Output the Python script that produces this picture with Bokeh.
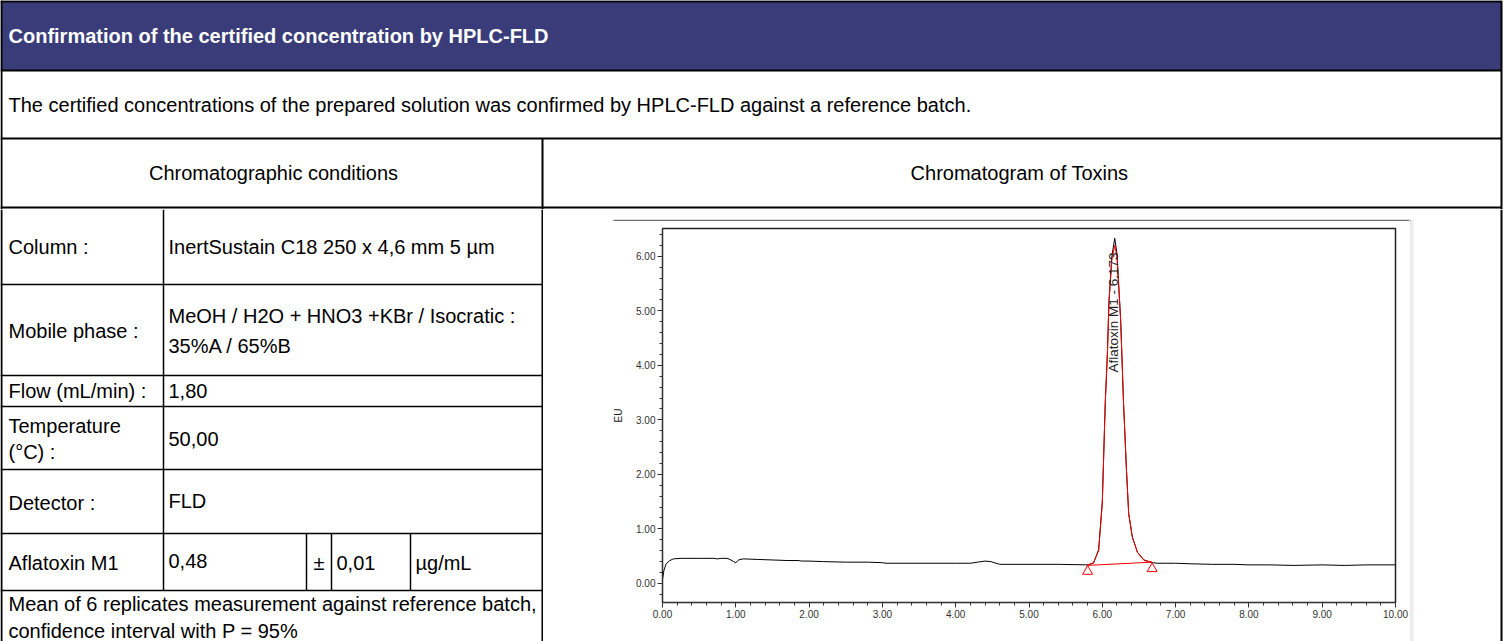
from math import pi
from bokeh.plotting import figure
from bokeh.layouts import column, row
from bokeh.models import Range1d, FixedTicker, PrintfTickFormatter, Label
from bokeh.core.properties import value
from bokeh.embed import file_html
from bokeh.resources import INLINE

# ---------------- data ----------------
trace_time = [0.00, 0.02, 0.05, 0.10, 0.15, 0.25, 0.50, 0.70, 0.75, 0.80, 0.88, 0.92,
              0.97, 1.00, 1.04, 1.10, 1.30, 1.50, 1.70, 1.85, 1.90, 2.00, 2.20, 2.50,
              2.80, 3.00, 3.05, 3.50, 4.00, 4.20, 4.30, 4.40, 4.48, 4.55, 4.60, 5.00,
              5.40, 5.80, 5.88, 5.95, 6.00, 6.02, 6.04, 6.07, 6.09, 6.13, 6.17, 6.20,
              6.25, 6.29, 6.33, 6.36, 6.41, 6.48, 6.57, 6.68, 6.75, 7.00, 7.20, 7.50,
              7.80, 8.00, 8.30, 8.60, 9.00, 9.30, 9.60, 10.00]
trace_eu = [0.08, 0.24, 0.36, 0.42, 0.45, 0.46, 0.46, 0.46, 0.45, 0.46, 0.46, 0.44,
            0.40, 0.38, 0.43, 0.45, 0.44, 0.43, 0.42, 0.42, 0.41, 0.41, 0.40, 0.39,
            0.39, 0.38, 0.37, 0.37, 0.37, 0.37, 0.39, 0.41, 0.40, 0.37, 0.35, 0.35,
            0.35, 0.34, 0.37, 0.62, 1.50, 2.40, 3.30, 4.25, 5.15, 6.00, 6.33, 6.05,
            4.85, 3.30, 2.07, 1.28, 0.85, 0.57, 0.43, 0.38, 0.37, 0.37, 0.36, 0.35,
            0.35, 0.34, 0.34, 0.33, 0.34, 0.33, 0.34, 0.34]

peak_time = [5.79, 5.88, 5.95, 6.00, 6.02, 6.04, 6.07, 6.09, 6.13, 6.17, 6.20,
             6.25, 6.29, 6.33, 6.36, 6.41, 6.48, 6.57, 6.68]
peak_eu = [0.33, 0.38, 0.60, 1.46, 2.38, 3.30, 4.21, 5.13, 5.93, 6.20, 5.99,
           4.83, 3.30, 2.07, 1.28, 0.85, 0.57, 0.42, 0.39]

baseline_time = [5.79, 6.68]
baseline_eu = [0.33, 0.39]
marker_time = [5.80, 6.68]
marker_eu = [0.22, 0.27]

peak_name = "Aflatoxin M1"
peak_rt = 6.173
label_pos = [6.15, 4.97]

x_major = [0, 1, 2, 3, 4, 5, 6, 7, 8, 9, 10]
y_major = [0, 1, 2, 3, 4, 5, 6]
x_range = [0, 10]
y_range = [-0.35, 6.51]

title_text = "Confirmation of the certified concentration by HPLC-FLD"
intro_text = "The certified concentrations of the prepared solution was confirmed by HPLC-FLD against a reference batch."
left_head = "Chromatographic conditions"
right_head = "Chromatogram of Toxins"

row_labels = ["Column :", "Mobile phase :", "Flow (mL/min) :", "Temperature\n(°C) :", "Detector :", "Aflatoxin M1"]
row_values = ["InertSustain C18 250 x 4,6 mm 5 µm",
              "MeOH / H2O + HNO3 +KBr / Isocratic :\n35%A / 65%B",
              "1,80", "50,00", "FLD", "0,48"]
uncert_sign = "±"
uncert_value = "0,01"
unit_text = "µg/mL"
footnote = ["Mean of 6 replicates measurement against reference batch,",
            "confidence interval with P = 95%"]

# ---------------- styles ----------------
FONT = "Liberation Sans"
BODY = "20px"
HEAD_BLUE = "#393c78"


def pix_fig(x0, x1, y0, y1):
    p = figure(width=x1 - x0, height=y1 - y0,
               x_range=Range1d(x0, x1), y_range=Range1d(y1, y0),
               x_axis_type=None, y_axis_type=None,
               toolbar_location=None, output_backend="svg",
               min_border=0, outline_line_color=None)
    p.background_fill_color = "white"
    p.border_fill_color = "white"
    return p


def put(p, xs, ys, texts, align="left", size=BODY, style="normal", color="black"):
    p.text(x=xs, y=ys, text=texts, text_font=value(FONT), text_font_size=size,
           text_font_style=style, text_align=align, text_baseline="middle",
           text_color=color)


W, H = 1509, 641
RB = 1501  # right border of the table

# ---------------- top part (header rows) ----------------
top = pix_fig(0, W, 0, 209)
top.quad(left=[0], right=[RB], top=[0], bottom=[70], fill_color=HEAD_BLUE, line_color=None)
top.segment(x0=[0, 0, 0, 0], y0=[1, 70, 138, 207], x1=[RB, RB, RB, RB], y1=[1, 70, 138, 207],
            line_color="black", line_width=2)
top.segment(x0=[1, 542, RB], y0=[0, 138, 0], x1=[1, 542, RB], y1=[209, 209, 209],
            line_color="black", line_width=2)
put(top, [8], [35], [title_text], size="20px", style="bold", color="white")
put(top, [8], [104], [intro_text])
put(top, [273, 1019], [172, 172], [left_head, right_head], align="center")

# ---------------- left table ----------------
left = pix_fig(0, 543, 209, H)
hl = [284, 375, 406, 469, 533, 590]
left.segment(x0=[0] * len(hl), y0=hl, x1=[542] * len(hl), y1=hl,
             line_color="black", line_width=1.5)
left.segment(x0=[163, 306, 331, 410], y0=[209, 533, 533, 533],
             x1=[163, 306, 331, 410], y1=[590, 590, 590, 590],
             line_color="black", line_width=1.5)
left.segment(x0=[1, 542], y0=[209, 209], x1=[1, 542], y1=[H, H], line_color="black", line_width=2)

label_y = [246, 330, 390, 438, 502, 562]
lab_x, lab_y, lab_t = [], [], []
for yy, txt in zip(label_y, row_labels):
    parts = txt.split("\n")
    off = -(len(parts) - 1) * 13
    for i, s in enumerate(parts):
        lab_x.append(8)
        lab_y.append(yy + off + i * 26)
        lab_t.append(s)
put(left, lab_x, lab_y, lab_t)

val_y = [246, 330, 390, 438, 500, 560]
v_x, v_y, v_t = [], [], []
for yy, txt in zip(val_y, row_values):
    parts = txt.split("\n")
    off = -(len(parts) - 1) * 15
    for i, s in enumerate(parts):
        v_x.append(168)
        v_y.append(yy + off + i * 30)
        v_t.append(s)
put(left, v_x, v_y, v_t)
put(left, [318.5], [562], [uncert_sign], align="center")
put(left, [336, 415], [562, 562], [uncert_value, unit_text])
put(left, [8, 8], [603, 630], footnote)

# ---------------- right side ----------------
gap = pix_fig(543, 1409, 209, 221)
gap.segment(x0=[613], y0=[220], x1=[1409], y1=[220], line_color="#6e6e6e", line_width=1.5)

strip = pix_fig(1409, W, 209, H)
strip.quad(left=[1409], right=[1413], top=[219.5], bottom=[H], fill_color="#ececec", line_color=None)
strip.segment(x0=[1409], y0=[220], x1=[1410], y1=[220], line_color="#6e6e6e", line_width=1.5)
strip.segment(x0=[RB], y0=[209], x1=[RB], y1=[H], line_color="black", line_width=2)

c = figure(width=866, height=H - 221,
           x_range=Range1d(*x_range), y_range=Range1d(*y_range),
           toolbar_location=None, output_backend="svg",
           min_border_left=119, min_border_right=14, min_border_top=7, min_border_bottom=39)
c.background_fill_color = "white"
c.border_fill_color = "white"
c.grid.visible = False
c.outline_line_color = "#222222"
c.outline_line_width = 1.5

x_minor = [round(i * 0.2, 1) for i in range(0, 51)]
y_minor = [round(-0.2 + i * 0.2, 1) for i in range(0, 34)]
c.xaxis.ticker = FixedTicker(ticks=x_major, minor_ticks=x_minor)
c.yaxis.ticker = FixedTicker(ticks=y_major, minor_ticks=y_minor)
c.xaxis.formatter = PrintfTickFormatter(format="%.2f")
c.yaxis.formatter = PrintfTickFormatter(format="%.2f")
for ax in (c.xaxis, c.yaxis):
    ax.major_label_text_font = "Liberation Sans"
    ax.major_label_text_font_size = "10px"
    ax.major_label_text_color = "#333333"
    ax.axis_line_color = "#333333"
    ax.major_tick_line_color = "#333333"
    ax.minor_tick_line_color = "#333333"
    ax.major_tick_in = 0
    ax.major_tick_out = 5
    ax.minor_tick_in = 0
    ax.minor_tick_out = 3
    ax.major_label_standoff = 2
c.yaxis.axis_label = "EU"
c.yaxis.axis_label_text_font = "Liberation Sans"
c.yaxis.axis_label_text_font_size = "10px"
c.yaxis.axis_label_text_font_style = "normal"
c.yaxis.axis_label_text_color = "#222222"
c.yaxis.axis_label_standoff = 9

c.line(trace_time, trace_eu, line_color="black", line_width=1)
c.line(peak_time, peak_eu, line_color="#ff0000", line_width=1)
c.line(baseline_time, baseline_eu, line_color="#ff0000", line_width=1)
c.scatter(marker_time, marker_eu, marker="triangle", size=10, fill_color=None,
          line_color="#ff0000", line_width=1)
c.add_layout(Label(x=label_pos[0], y=label_pos[1], text=f"{peak_name} - {peak_rt:.3f}",
                   angle=pi / 2, text_align="center", text_baseline="middle",
                   text_font="Liberation Sans", text_font_size="13.5px", text_color="#222222"))

right = row(column(gap, row(c, spacing=0), spacing=0), strip, spacing=0)
layout = column(top, row(left, right, spacing=0), spacing=0)

open("out.html", "w").write(file_html(layout, INLINE))
